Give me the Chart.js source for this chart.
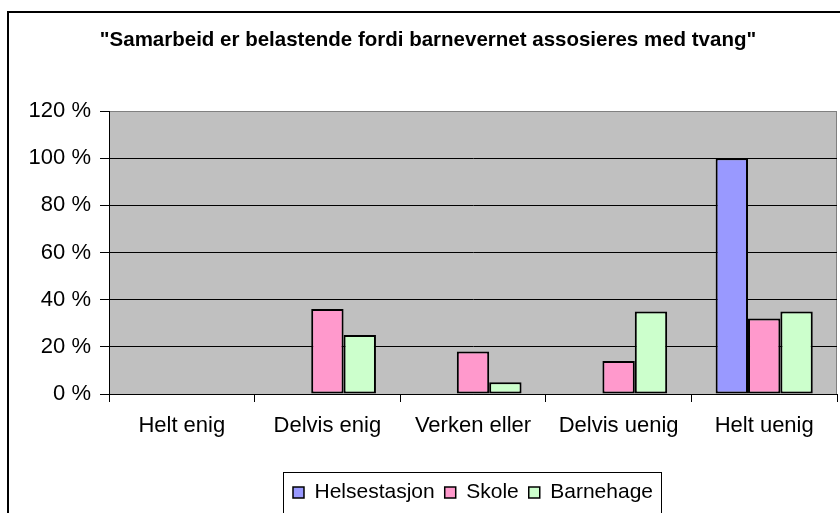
<!DOCTYPE html>
<html>
<head>
<meta charset="utf-8">
<script src="https://cdn.jsdelivr.net/npm/chart.js@4/dist/chart.umd.min.js"></script>
<style>
  html, body { margin: 0; padding: 0; background: #ffffff; }
  canvas { display: block; }
</style>
</head>
<body>
<canvas id="c" width="840" height="513"></canvas>
<script>
const titleText = '"Samarbeid er belastende fordi barnevernet assosieres med tvang"';
const categories = ['Helt enig', 'Delvis enig', 'Verken eller', 'Delvis uenig', 'Helt uenig'];
const helsestasjon = [0, 0, 0, 0, 100];
const skole = [0, 36, 18, 14, 32];
const barnehage = [0, 25, 5, 35, 35];
const yTicks = [0, 20, 40, 60, 80, 100, 120];

const FONT = "'Liberation Sans', Arial, sans-serif";
Chart.defaults.font.family = FONT;
Chart.defaults.color = '#000000';

const bw = (ctx) => (ctx.raw === 0 ? 0 : 2);

const framePlugin = {
  id: 'frame',
  beforeDraw(chart) {
    const ctx = chart.ctx;
    const a = chart.chartArea;
    ctx.save();
    ctx.strokeStyle = '#000000';
    ctx.lineWidth = 2;
    ctx.strokeRect(8, 12, 1000, 1000);
    ctx.fillStyle = '#C0C0C0';
    ctx.fillRect(a.left, a.top, a.right - a.left, a.bottom - a.top);
    ctx.strokeStyle = '#808080';
    ctx.lineWidth = 1;
    ctx.strokeRect(a.left + 0.5, a.top + 0.5, a.right - a.left - 1, a.bottom - a.top);
    ctx.restore();
  },
  afterLayout(chart) {
    const t = chart.titleBlock;
    if (t) { t.left += 19; }
  },
  afterDraw(chart) {
    const lg = chart.legend;
    if (!lg || !lg.legendHitBoxes || !lg.legendHitBoxes.length) return;
    let l = Infinity, r = -Infinity;
    lg.legendHitBoxes.forEach(h => { l = Math.min(l, h.left); r = Math.max(r, h.left + h.width); });
    const ctx = chart.ctx;
    ctx.save();
    ctx.strokeStyle = '#000000';
    ctx.lineWidth = 1;
    ctx.strokeRect(Math.round(l - 10) + 0.5, Math.round(lg.top) + 0.5, Math.round(r - l + 18), 100);
    ctx.restore();
  }
};

new Chart(document.getElementById('c'), {
  type: 'bar',
  data: {
    labels: categories,
    datasets: [
      { label: 'Helsestasjon', data: helsestasjon, backgroundColor: '#9999FF', borderColor: '#000000', borderWidth: bw },
      { label: 'Skole', data: skole, backgroundColor: '#FF99CC', borderColor: '#000000', borderWidth: bw },
      { label: 'Barnehage', data: barnehage, backgroundColor: '#CCFFCC', borderColor: '#000000', borderWidth: bw }
    ]
  },
  options: {
    responsive: false,
    animation: false,
    devicePixelRatio: 1,
    layout: { padding: { top: 0, left: 0, right: 3, bottom: 0 } },
    datasets: { bar: { categoryPercentage: 0.667, barPercentage: 1.0, borderSkipped: false } },
    plugins: {
      title: {
        display: true,
        text: titleText,
        font: { size: 20.5, weight: 'bold', family: FONT },
        color: '#000000',
        padding: { top: 28, bottom: 58.4 }
      },
      legend: {
        position: 'bottom',
        fullSize: false,
        labels: {
          font: { size: 21, family: FONT },
          color: '#000000',
          boxWidth: 11,
          boxHeight: 11,
          padding: 10,
          generateLabels(chart) {
            const items = Chart.defaults.plugins.legend.labels.generateLabels(chart);
            items.forEach(it => { it.lineWidth = 1.5; it.strokeStyle = '#000000'; });
            return items;
          }
        }
      },
      tooltip: { enabled: false }
    },
    scales: {
      x: {
        offset: true,
        grid: { offset: true, drawOnChartArea: false, drawTicks: true, tickLength: 8, color: '#000000' },
        border: { display: true, color: '#000000', width: 1 },
        ticks: { font: { size: 22, family: FONT }, color: '#000000', padding: 11, maxRotation: 0, autoSkip: false },
        afterFit(s) { s.height = 78; }
      },
      y: {
        min: 0,
        max: 120,
        afterBuildTicks(s) { s.ticks = yTicks.map(v => ({ value: v })); },
        grid: {
          color: (c) => (c.tick && c.tick.value === 120 ? '#808080' : '#000000'),
          tickColor: '#000000',
          tickLength: 9,
          drawTicks: true
        },
        border: { display: true, color: '#000000', width: 1 },
        ticks: {
          font: { size: 22, family: FONT },
          color: '#000000',
          padding: 9,
          callback: (v) => v + ' %'
        },
        afterFit(s) { s.width = 109; }
      }
    }
  },
  plugins: [framePlugin]
});
</script>
</body>
</html>
